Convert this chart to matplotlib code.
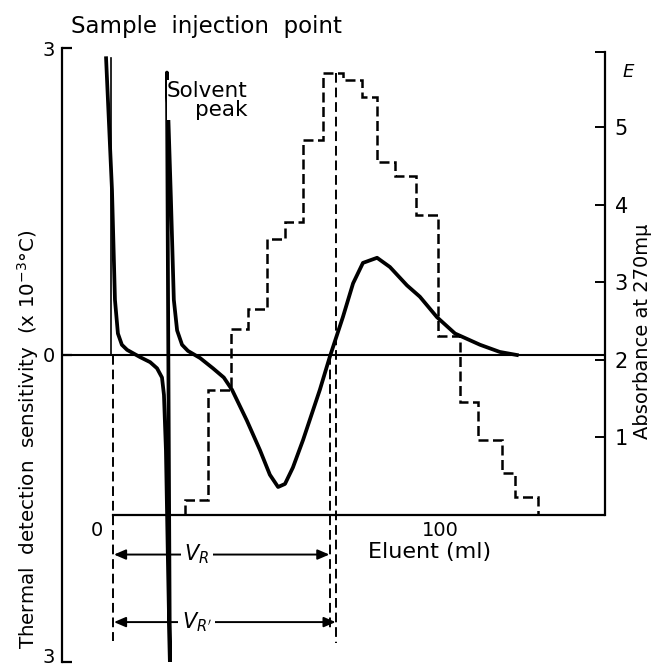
import matplotlib
matplotlib.use("Agg")
import matplotlib.pyplot as plt
from matplotlib.transforms import ScaledTranslation

plt.rcParams['font.family'] = ['DejaVu Sans']

# ---- data (eluent in ml) ----
# thermal detector trace: injection spike + solvent peak + sample peak
thermal_ml = [-1.5, 0.3, 1.2, 2.1, 3.3, 4.9, 8.8, 11.9, 14.0, 15.5, 16.1, 16.7, 17.3, 17.9,
              17.0, 18.2, 19.1, 20.1, 21.6, 23.4, 27.1, 31.0, 34.3, 36.8, 41.3, 45.3, 48.3,
              50.8, 52.9, 55.3, 58.4, 63.5, 66.6, 70.5, 73.6, 76.6, 80.9, 84.8, 90.0, 93.9,
              99.1, 104.6, 112.2, 118.2, 123.4]
thermal_val = [2.90, 1.61, 0.54, 0.21, 0.10, 0.05, -0.02, -0.07, -0.13, -0.22, -0.39, -0.93, -2.00, -3.0,
               2.76, 1.54, 0.54, 0.24, 0.10, 0.04, -0.03, -0.13, -0.22, -0.34, -0.64, -0.93, -1.17,
               -1.29, -1.26, -1.10, -0.83, -0.34, -0.01, 0.37, 0.70, 0.90, 0.95, 0.86, 0.68, 0.57,
               0.37, 0.21, 0.10, 0.03, 0.0]

# fraction absorbance histogram
fraction_edges = [22.5, 29.5, 36.5, 41.6, 47.4, 52.9, 58.4, 64.4, 70.5, 76.3, 80.9, 86.3,
                  92.7, 99.4, 106.1, 111.6, 118.8, 122.8, 129.8]
absorbance = [0.19, 1.61, 2.40, 2.65, 3.56, 3.78, 4.83, 5.70, 5.61, 5.39, 4.55, 4.37,
              3.87, 2.31, 1.46, 0.97, 0.54, 0.23]

INJECTION = 0.0
V_R = 66.6
V_R_PRIME = 68.5

left_ticks = [-3, 0, 3]
left_ticklabels = ["3", "0", "3"]
right_ticks = [1, 2, 3, 4, 5]

# ---- layout ----
W, H = 653, 669
fig = plt.figure(figsize=(W / 100, H / 100), dpi=100)
ax = fig.add_axes([62 / W, 1 - 662 / H, (605 - 62) / W, (662 - 48) / H])
XMIN, XMAX = -14.9, 150.2
ax.set_xlim(XMIN, XMAX)
ax.set_ylim(-3, 3)
for s in ['top', 'bottom', 'right']:
    ax.spines[s].set_visible(False)
ax.spines['left'].set_linewidth(1.6)
ax.set_xticks([])
ax.set_yticks(left_ticks)
ax.set_yticklabels(left_ticklabels)
ax.tick_params(axis='y', direction='in', length=7, width=1.6, labelsize=14, pad=5)
# keep the bottom "3" inside the picture
lowlab = ax.get_yticklabels()[0]
lowlab.set_verticalalignment('baseline')
lowlab.set_transform(lowlab.get_transform() + ScaledTranslation(0, -1.0 / 72, fig.dpi_scale_trans))

ax2 = ax.twinx()
ax2.set_ylim(-1.894, 6.018)
for s in ['top', 'bottom', 'left']:
    ax2.spines[s].set_visible(False)
ax2.spines['right'].set_linewidth(1.6)
ax2.spines['right'].set_bounds(0, 5.97)
ax2.set_yticks(right_ticks)
ax2.set_yticks([5.97], minor=True)
ax2.tick_params(axis='y', which='both', direction='in', length=7, width=1.4, labelsize=15, pad=7)

# zero line of thermal trace
ax.axhline(0, color='black', lw=1.5, zorder=2)

# eluent baseline
ax2.plot([INJECTION + 0.5, XMAX], [0, 0], color='black', lw=1.6)

# histogram
ax2.stairs(absorbance, fraction_edges, baseline=0, color='black', lw=1.8,
           linestyle=(0, (4, 1.8)), zorder=3)

# thermal trace
ax.plot(thermal_ml, thermal_val, color='black', lw=2.7, solid_joinstyle='round', zorder=4)

# injection marker
ax.plot([INJECTION, INJECTION], [0, 2.9], color='black', lw=1.2)
ax.plot([INJECTION + 0.5] * 2, [0, -2.79], color='black', lw=1.4, linestyle=(0, (5, 2.5)))
# retention volume markers
ax.plot([V_R, V_R], [0, -2.69], color='black', lw=1.4, linestyle=(0, (5, 2.5)))
ax.plot([V_R_PRIME, V_R_PRIME], [2.76, -2.81], color='black', lw=1.4, linestyle=(0, (5, 2.5)))

for xv, yv, lab in [(V_R, -1.95, r'$V_R$'), (V_R_PRIME, -2.61, r"$V_{R'}$")]:
    ax.annotate('', xy=(INJECTION + 0.9, yv), xytext=(xv - 0.2, yv),
                arrowprops=dict(arrowstyle='<|-|>,head_length=0.7,head_width=0.3',
                                color='black', lw=1.4, shrinkA=0, shrinkB=0), zorder=5)
    ax.text(26.1, yv, lab, ha='center', va='center', fontsize=15, zorder=6,
            bbox=dict(facecolor='white', edgecolor='none', pad=2.5))

# texts
ax.text(41.6, 2.49, "Solvent\npeak", ha='right', va='center', multialignment='right',
        fontsize=15.5, linespacing=0.95, zorder=6,
        bbox=dict(facecolor='white', edgecolor='none', pad=0.3))
ax2.text(-4.3, -0.2, "0", ha='center', va='center', fontsize=14)
ax2.text(100, -0.2, "100", ha='center', va='center', fontsize=14)
ax2.text(97, -0.48, "Eluent (ml)", ha='center', va='center', fontsize=16)

fig.text(206 / W, 1 - 33 / H, "Sample  injection  point", ha='center', va='baseline', fontsize=16.5)
fig.text(28 / W, 1 - 439 / H, "Thermal  detection  sensitivity  (x 10$^{-3}$°C)",
         rotation=90, ha='center', va='center', fontsize=14.3)
fig.text(643 / W, 1 - 331 / H, "Absorbance at 270mμ", rotation=90, ha='center', va='center', fontsize=14)
fig.text(628 / W, 1 - 72 / H, "E", ha='center', va='center', fontsize=13, style='italic')

fig.savefig("out.png", dpi=100)
